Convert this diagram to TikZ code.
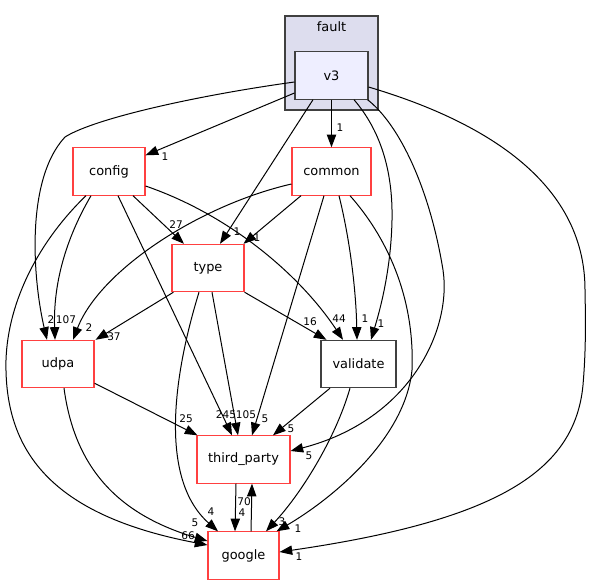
\documentclass[tikz,border=0pt]{standalone}
\usepackage{fontspec}
\setmainfont{DejaVu Sans}
\usetikzlibrary{arrows.meta,calc}
\definecolor{dirred}{RGB}{255,64,64}
\definecolor{dirgrey}{RGB}{64,64,64}
\definecolor{curfill}{RGB}{238,238,255}
\definecolor{clusterfill}{RGB}{221,221,238}

\begin{document}
\begin{tikzpicture}[x=0.75pt, y=-0.75pt, font=\fontsize{9.7}{11}\selectfont]
    \tikzstyle{dir} = [rectangle, draw=dirred, line width=0.8pt, minimum height=35.5pt, inner sep=0pt]
    \tikzstyle{dep} = [-{Triangle[length=9.5pt, width=7pt]}, line width=0.75pt]
    \tikzstyle{num} = [font=\fontsize{7.9}{9}\selectfont, inner sep=0pt]

    \useasboundingbox (0,0) rectangle (591,585);

    % fault cluster with v3
    \node [rectangle, draw=dirgrey, fill=clusterfill, line width=0.8pt, minimum width=69.75pt, minimum height=70.5pt] (fault) at (331.5,63) {};
    \node (faultname) at (331.5,27) {fault};
    \node [dir, draw=dirgrey, fill=curfill, minimum width=54.75pt] (v3) at (331.5,75.5) {v3};

    \node [dir, minimum width=54pt] (config) at (109,171.5) {config};
    \node [dir, minimum width=59.25pt] (common) at (331.5,171.5) {common};
    \node [dir, minimum width=54pt] (type) at (208,268) {type};
    \node [dir, minimum width=54pt] (udpa) at (58,364) {udpa};
    \node [dir, draw=dirgrey, minimum width=56.25pt] (validate) at (358.5,364) {validate};
    \node [dir, minimum width=69.75pt] (third_party) at (243.5,459.5) {third\_party};
    \node [dir, minimum width=53.25pt] (google) at (243.5,555.5) {google};

    % from v3
    \draw [dep] ($(v3.west)+(0,17.5)$) -- ($(config.north east)+(0,8)$) node [num] at (165,157) {1};
    \draw [dep] ($(v3.west)+(0,6.5)$) .. controls (200,95) and (95,118) .. (65,137) .. controls (25,180) and (33,280) .. ($(udpa.north)+(-11,0)$) node [num] at (51,320) {2};
    \draw [dep] ($(v3.south)+(-18.5,0)$) -- ($(type.north)+(12,0)$) node [num] at (237,232) {1};
    \draw [dep] (v3.south) -- (common.north) node [num] at (340,128) {1};
    \draw [dep] ($(v3.south)+(22.5,0)$) .. controls (380,130) and (393,170) .. (392,220) .. controls (391,270) and (380,310) .. ($(validate.north)+(12.5,0)$) node [num] at (381,324) {1};
    \draw [dep] ($(v3.south east)+(-1,0)$) .. controls (400,125) and (430,190) .. (443,270) .. controls (452,330) and (410,420) .. ($(third_party.east)+(0,-8.5)$) node [num] at (309,456) {5};
    \draw [dep] ($(v3.east)+(0,11.5)$) .. controls (480,120) and (585,180) .. (585,290) .. controls (586,340) and (585,360) .. (583,385) .. controls (575,470) and (500,520) .. ($(google.east)+(0,-3.5)$) node [num] at (299,557) {1};

    % from config
    \draw [dep] ($(config.south)+(-18,0)$) .. controls (68,235) and (53,280) .. ($(udpa.north)+(-3,0)$) node [num] at (66,320) {107};
    \draw [dep] ($(config.south)+(-23,0)$) .. controls (40,240) and (8,300) .. (6,360) .. controls (4,450) and (50,515) .. ($(google.west)+(0,-10.5)$) node [num] at (188,536) {66};
    \draw [dep] ($(config.south)+(24,0)$) -- ($(type.north)+(-24,0)$) node [num] at (176,225) {27};
    \draw [dep] ($(config.south)+(9,0)$) -- ($(third_party.north)+(-11.5,0)$) node [num] at (226,415) {245};
    \draw [dep] ($(config.east)+(0,14.5)$) .. controls (230,215) and (300,275) .. ($(validate.north)+(-15.5,0)$) node [num] at (339,319) {44};

    % from common
    \draw [dep] ($(common.south)+(-30.5,0)$) -- ($(type.north east)+(-1,0)$) node [num] at (257,238) {1};
    \draw [dep] ($(common.west)+(0,12.5)$) .. controls (200,205) and (100,270) .. ($(udpa.north)+(15,0)$) node [num] at (89,328) {2};
    \draw [dep] ($(common.south)+(-7.5,0)$) -- ($(third_party.north)+(8.5,0)$) node [num] at (265,419) {5};
    \draw [dep] ($(common.south)+(7.5,0)$) .. controls (350,240) and (356,290) .. ($(validate.north)+(-1.5,0)$) node [num] at (365,319) {1};
    \draw [dep] ($(common.south)+(18.5,0)$) .. controls (385,235) and (415,295) .. (412,370) .. controls (405,440) and (330,500) .. ($(google.north east)+(-3,0)$) node [num] at (298,529) {1};

    % from type
    \draw [dep] ($(type.south west)+(2,0)$) -- ($(udpa.north east)+(1,0)$) node [num] at (114,337) {37};
    \draw [dep] (type.south east) -- ($(validate.north west)+(6,0)$) node [num] at (310,322) {16};
    \draw [dep] ($(type.south)+(4,0)$) -- ($(third_party.north)+(-5.5,0)$) node [num] at (246,415) {105};
    \draw [dep] ($(type.south)+(-9,0)$) .. controls (172,380) and (160,480) .. ($(google.north)+(-25.5,0)$) node [num] at (211,512) {4};

    % from udpa and validate
    \draw [dep] ($(udpa.south east)+(0,-5)$) -- ($(third_party.north west)+(1,0)$) node [num] at (186,419) {25};
    \draw [dep] ($(udpa.south)+(6,0)$) .. controls (75,470) and (120,515) .. ($(google.west)+(0,-14.5)$) node [num] at (195,523) {5};
    \draw [dep] ($(validate.south)+(-28.5,0)$) -- ($(third_party.north)+(29.5,0)$) node [num] at (291,429) {5};
    \draw [dep] ($(validate.south)+(-8.5,0)$) .. controls (335,440) and (300,495) .. ($(google.north)+(22.5,0)$) node [num] at (282,522) {3};

    % third_party and google
    \draw [dep] ($(third_party.south)+(-7.5,0)$) -- ($(google.north)+(-8.5,0)$) node [num] at (242,513) {4};
    \draw [dep] ($(google.north)+(7.5,0)$) -- ($(third_party.south)+(8.5,0)$) node [num] at (244,502) {70};
\end{tikzpicture}
\end{document}
